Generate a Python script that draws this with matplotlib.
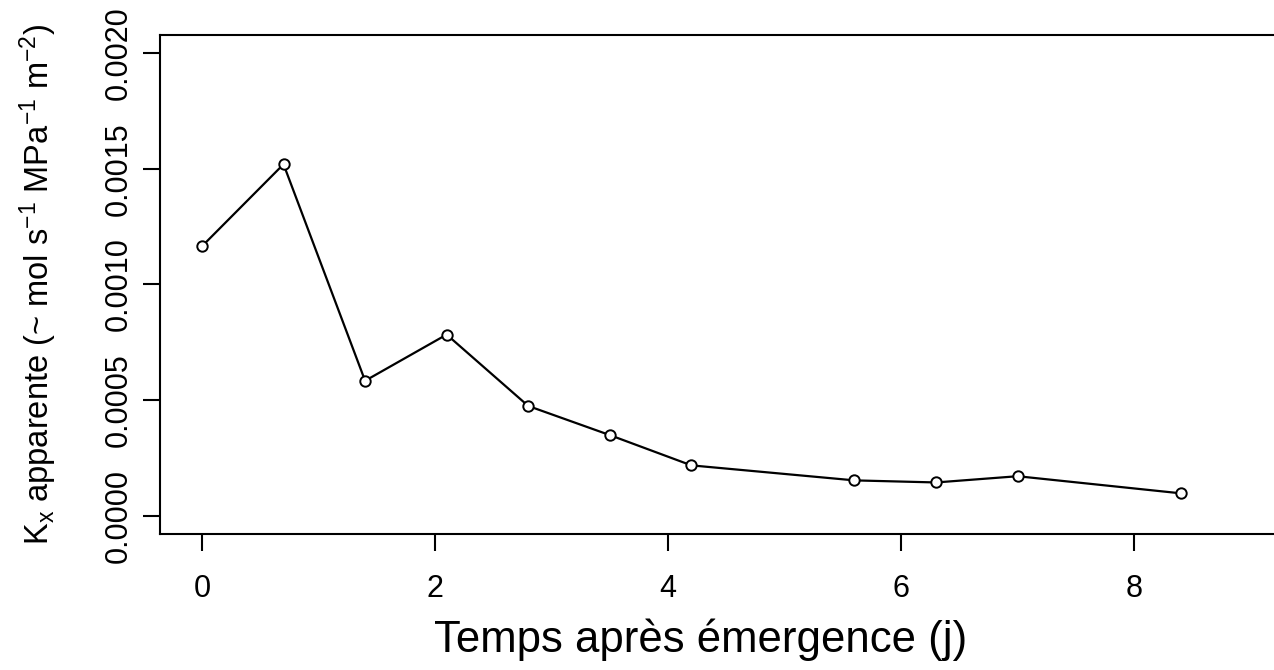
import matplotlib
matplotlib.use("Agg")
import matplotlib.pyplot as plt

plt.rcParams['font.family'] = ['Liberation Sans', 'DejaVu Sans']
plt.rcParams['mathtext.default'] = 'regular'

# temps apres emergence (jours) et conductance apparente
temps = [0, 0.7, 1.4, 2.1, 2.8, 3.5, 4.2, 5.6, 6.3, 7.0, 8.4]
kx = [0.001165, 0.001520, 0.000583, 0.000783, 0.000474, 0.000348,
      0.000217, 0.000152, 0.000143, 0.000170, 0.000096]

x_ticks = [0, 2, 4, 6, 8]
y_ticks = [0.0000, 0.0005, 0.0010, 0.0015, 0.0020]

fig = plt.figure(figsize=(12.74, 6.70), dpi=100)
ax = fig.add_axes([0.1256, 0.203, 0.889, 0.745])

ax.plot(temps, kx, color='black', linewidth=1.6, marker='o', markersize=7.5,
        markerfacecolor='white', markeredgecolor='black', markeredgewidth=1.4)

ax.set_xlim(-0.36, 9.36)
ax.set_ylim(-0.00008, 0.00208)
ax.set_xticks(x_ticks)
ax.set_xticklabels([str(t) for t in x_ticks])
ax.set_yticks(y_ticks)
ax.set_yticklabels([f'{v:.4f}' for v in y_ticks], rotation=90, va='center')

ax.tick_params(axis='both', direction='out', length=12, width=1.5,
               labelsize=22)
ax.tick_params(axis='x', pad=17)
ax.tick_params(axis='y', pad=7)
for side in ax.spines.values():
    side.set_linewidth(1.5)

ax.set_xlabel('Temps après émergence (j)', fontsize=31.5)
ax.xaxis.set_label_coords(0.4775, -0.170)
ax.set_ylabel(r'K$_x$ apparente (~ mol s$^{-1}$ MPa$^{-1}$ m$^{-2}$)',
              fontsize=23.5)
ax.yaxis.set_label_coords(-0.089, 0.5)

fig.savefig('out.png', dpi=100)
